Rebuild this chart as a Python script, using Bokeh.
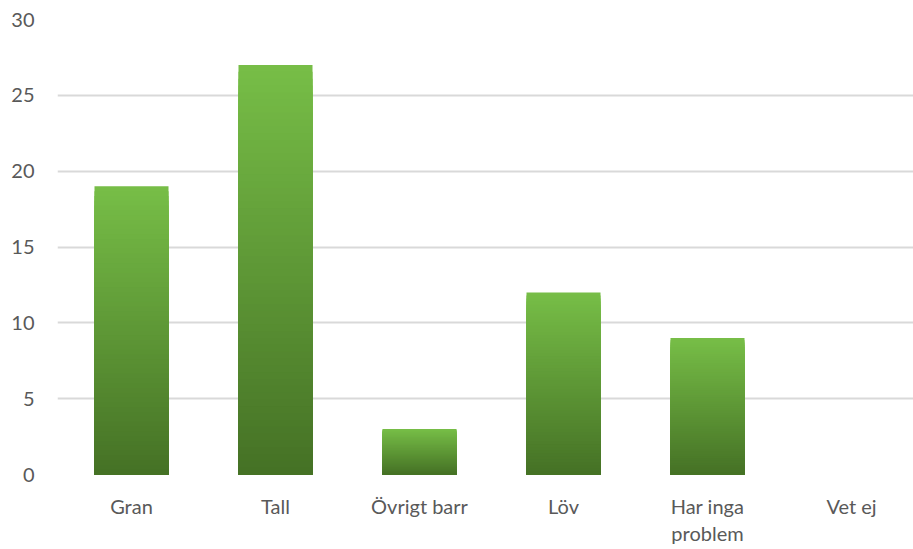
from bokeh.plotting import figure
from bokeh.models import FixedTicker, ColumnDataSource
from bokeh.embed import file_html
from bokeh.resources import INLINE

categories = ["Gran", "Tall", "Övrigt barr", "Löv", "Har inga\nproblem", "Vet ej"]
values = [19, 27, 3, 12, 9, 0]
y_ticks = [0, 5, 10, 15, 20, 25, 30]

TOP_RGB = (0x77, 0xBE, 0x47)
BOTTOM_RGB = (0x45, 0x71, 0x25)
N_STEPS = 60
BAR_W = 74 / 144

xs = [i + 0.5 for i in range(len(categories))]

def mix(t):
    r = [round(BOTTOM_RGB[k] + (TOP_RGB[k] - BOTTOM_RGB[k]) * t) for k in range(3)]
    return "#%02x%02x%02x" % tuple(r)

left, right, bottom, top, colors = [], [], [], [], []
for x, v in zip(xs, values):
    if v <= 0:
        continue
    for s in range(N_STEPS):
        frac = (N_STEPS - s) / N_STEPS
        left.append(x - BAR_W / 2)
        right.append(x + BAR_W / 2)
        bottom.append(0)
        top.append(v * frac)
        colors.append(mix(frac - 0.5 / N_STEPS))

src = ColumnDataSource(dict(left=left, right=right, bottom=bottom, top=top, color=colors))

p = figure(width=913, height=549, output_backend="svg", toolbar_location=None,
           x_range=(-2 / 144, 854 / 144), y_range=(0, 30),
           min_border_left=57, min_border_right=0, min_border_top=19, min_border_bottom=75)
p.outline_line_color = None
p.background_fill_color = "white"

p.quad(left="left", right="right", bottom="bottom", top="top", fill_color="color",
       line_color=None, source=src)

p.yaxis.ticker = FixedTicker(ticks=y_ticks)
p.xaxis.ticker = FixedTicker(ticks=xs)
p.xaxis.major_label_overrides = {x: c for x, c in zip(xs, categories)}

for ax in (p.xaxis, p.yaxis):
    ax.axis_line_color = None
    ax.major_tick_line_color = None
    ax.minor_tick_line_color = None
    ax.major_tick_out = 0
    ax.major_tick_in = 0
    ax.minor_tick_out = 0
    ax.major_label_text_font = "Lato"
    ax.major_label_text_font_size = "20px"
    ax.major_label_text_color = "#595959"

p.yaxis.major_label_standoff = 23
p.xaxis.major_label_standoff = 19
p.xaxis.major_label_text_line_height = 1.15

p.xgrid.grid_line_color = None
p.ygrid.grid_line_color = "#d9d9d9"
p.ygrid.grid_line_width = 2
p.ygrid.level = "underlay"

open("out.html", "w").write(file_html(p, INLINE))
